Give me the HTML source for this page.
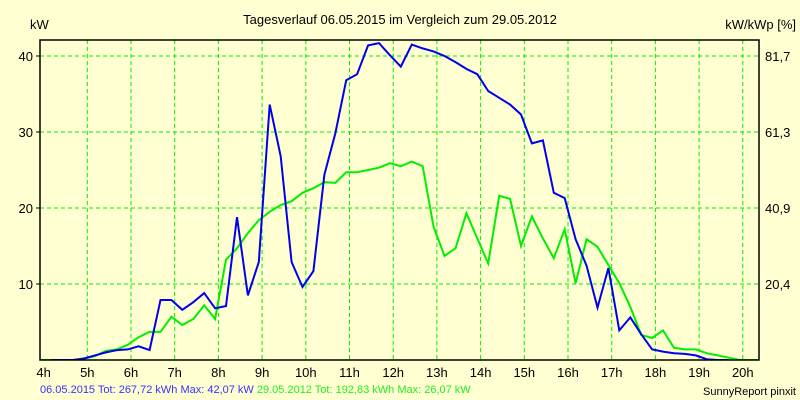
<!DOCTYPE html>
<html><head><meta charset="utf-8"><style>
html,body{margin:0;padding:0;background:#ffffd2;}
svg{display:block;font-family:"Liberation Sans",sans-serif;}
</style></head><body>
<svg id="chart" width="800" height="400" viewBox="0 0 800 400">
<rect x="0" y="0" width="800" height="400" fill="#ffffd2"/>
<text x="400" y="24" font-size="13" text-anchor="middle" fill="#000">Tagesverlauf 06.05.2015 im Vergleich zum 29.05.2012</text>
<text x="30" y="29" font-size="13" fill="#000">kW</text>
<text x="796" y="29" font-size="13" text-anchor="end" fill="#000">kW/kWp [%]</text>
<g id="grid"></g>
<g id="series"></g>
<rect x="40" y="40" width="719" height="320" fill="none" stroke="#000" stroke-width="1.5"/>
<g id="labels"></g>
<text x="40" y="393" font-size="11"><tspan fill="#3333ff">06.05.2015 Tot: 267,72 kWh Max: 42,07 kW </tspan><tspan fill="#22ee22">29.05.2012 Tot: 192,83 kWh Max: 26,07 kW</tspan></text>
<text x="796" y="395" font-size="11" text-anchor="end" fill="#000">SunnyReport pinxit</text>
</svg>
<script>
const hourTicks = [4,5,6,7,8,9,10,11,12,13,14,15,16,17,18,19,20];
const kwTicks = [10,20,30,40];
const pctTicks = ["20,4","40,9","61,3","81,7"];
const startHour = 4.175;
const stepHours = 0.25;
const blueValues = [0,0,0,0.2,0.6,1.0,1.3,1.4,1.8,1.3,7.9,7.9,6.6,7.6,8.8,6.8,7.1,18.8,8.5,12.9,33.6,26.8,12.9,9.6,11.7,24.4,29.8,36.8,37.6,41.4,41.7,40.1,38.6,41.5,41.0,40.6,40.0,39.2,38.3,37.6,35.4,34.5,33.6,32.3,28.5,28.9,22.0,21.3,15.9,12.4,6.9,12.1,3.9,5.6,3.4,1.4,1.1,0.9,0.8,0.6,0.1,0,0];
const greenValues = [0,0,0,0.2,0.5,1.2,1.4,2.0,3.0,3.7,3.7,5.7,4.6,5.4,7.2,5.4,13.2,14.7,16.7,18.4,19.5,20.4,20.9,22.0,22.6,23.4,23.3,24.7,24.7,25.0,25.3,25.9,25.5,26.1,25.5,17.5,13.7,14.7,19.3,16.0,12.7,21.6,21.2,15.0,18.9,16.0,13.4,17.2,10.1,15.9,14.9,12.5,10.1,7.0,3.3,2.9,3.9,1.6,1.4,1.4,0.9,0.6,0.3,0,0,0];

const X0=43.6, PXH=43.7, Y0=360, PXKW=7.6;
const xs = h => X0 + (h-4)*PXH;
const ys = v => Y0 - v*PXKW;
const NS="http://www.w3.org/2000/svg";
const grid=document.getElementById('grid'), labels=document.getElementById('labels'), series=document.getElementById('series');
function mk(tag,attrs,parent){const e=document.createElementNS(NS,tag);for(const k in attrs)e.setAttribute(k,attrs[k]);parent.appendChild(e);return e;}
hourTicks.forEach(h=>{
  const x=xs(h);
  if(h>4){const l=mk('line',{x1:x,y1:40,x2:x,y2:360,stroke:'#00ee00','stroke-width':1,'stroke-dasharray':'4,3'},grid);
  
  }
  const t=mk('text',{x:x,y:377,'font-size':13,'text-anchor':'middle',fill:'#000'},labels);
  
  
  t.textContent=h+'h';
});
kwTicks.forEach((v,i)=>{
  const y=ys(v);
  const l=mk('line',{x1:40,y1:y,x2:759,y2:y,stroke:'#00ee00','stroke-width':1,'stroke-dasharray':'4,3'},grid);
  
  
  const tk=mk('line',{x1:36,y1:y,x2:40,y2:y,stroke:'#000'},labels);
  
  
  const t=mk('text',{x:33,y:y+5,'font-size':13,'text-anchor':'end',fill:'#000'},labels);
  
  
  t.textContent=v;
  const t2=mk('text',{x:765,y:y+5,'font-size':13,fill:'#000'},labels);
  
  
  t2.textContent=pctTicks[i];
});
mk('clipPath',{id:'clip'},series).appendChild(Object.assign(document.createElementNS(NS,'rect'),{}));
const cr=document.querySelector('#clip rect');cr.setAttribute('x',40);cr.setAttribute('y',40);cr.setAttribute('width',719);cr.setAttribute('height',320);
function pts(vals){return vals.map((v,i)=>xs(startHour+i*stepHours).toFixed(1)+','+ys(v).toFixed(1)).join(' ');}
const g=mk('polyline',{points:'40,360 '+pts(greenValues)+' 759,360',fill:'none',stroke:'#00ee00','stroke-width':2,'clip-path':'url(#clip)'},series);


const b=mk('polyline',{points:pts(blueValues),fill:'none',stroke:'#0000ee','stroke-width':2,'clip-path':'url(#clip)'},series);


</script>
</body></html>
